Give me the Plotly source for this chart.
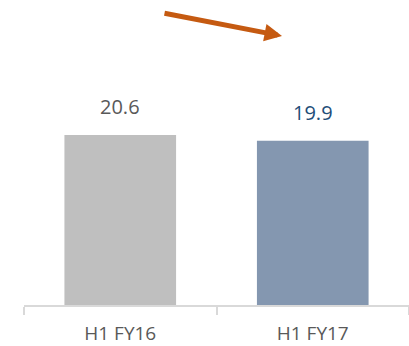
import plotly.graph_objects as go

# Half-year values
categories = ["H1 FY16", "H1 FY17"]
values = [20.6, 19.9]
bar_colors = ["#BFBFBF", "#8497B0"]
label_colors = ["#595959", "#1F4E79"]

fig = go.Figure()
fig.add_trace(go.Bar(
    x=categories,
    y=values,
    marker=dict(color=bar_colors, line=dict(width=0)),
    hoverinfo="skip",
))

# Value labels above each bar
for cat, val, col in zip(categories, values, label_colors):
    fig.add_annotation(
        x=cat, y=val, text=f"{val:.1f}", showarrow=False,
        yanchor="bottom", yshift=13,
        font=dict(family="Open Sans", size=20, color=col),
    )

# Downward trend arrow
fig.add_annotation(
    xref="paper", yref="paper",
    x=(282 - 24) / 385, y=(305 - 36) / 305,
    ax=-119, ay=-23,
    showarrow=True, arrowhead=2, arrowsize=0.7, arrowwidth=5,
    arrowcolor="#C55A11", standoff=0, text="",
)

fig.update_layout(
    width=409, height=346,
    margin=dict(l=24, r=0, t=0, b=41, autoexpand=False),
    paper_bgcolor="white", plot_bgcolor="white",
    bargap=0.42,
    showlegend=False,
    xaxis=dict(
        type="category", automargin=False,
        showline=True, linecolor="#D9D9D9", linewidth=1.5,
        ticks="outside", tickson="boundaries", ticklen=8,
        tickcolor="#D9D9D9", tickwidth=1.5,
        ticklabelstandoff=10,
        tickfont=dict(family="Open Sans", size=19, color="#595959"),
        showgrid=False,
    ),
    yaxis=dict(
        range=[0, 36.97], visible=False, showgrid=False, zeroline=False,
    ),
)

fig.write_html("out.html")
